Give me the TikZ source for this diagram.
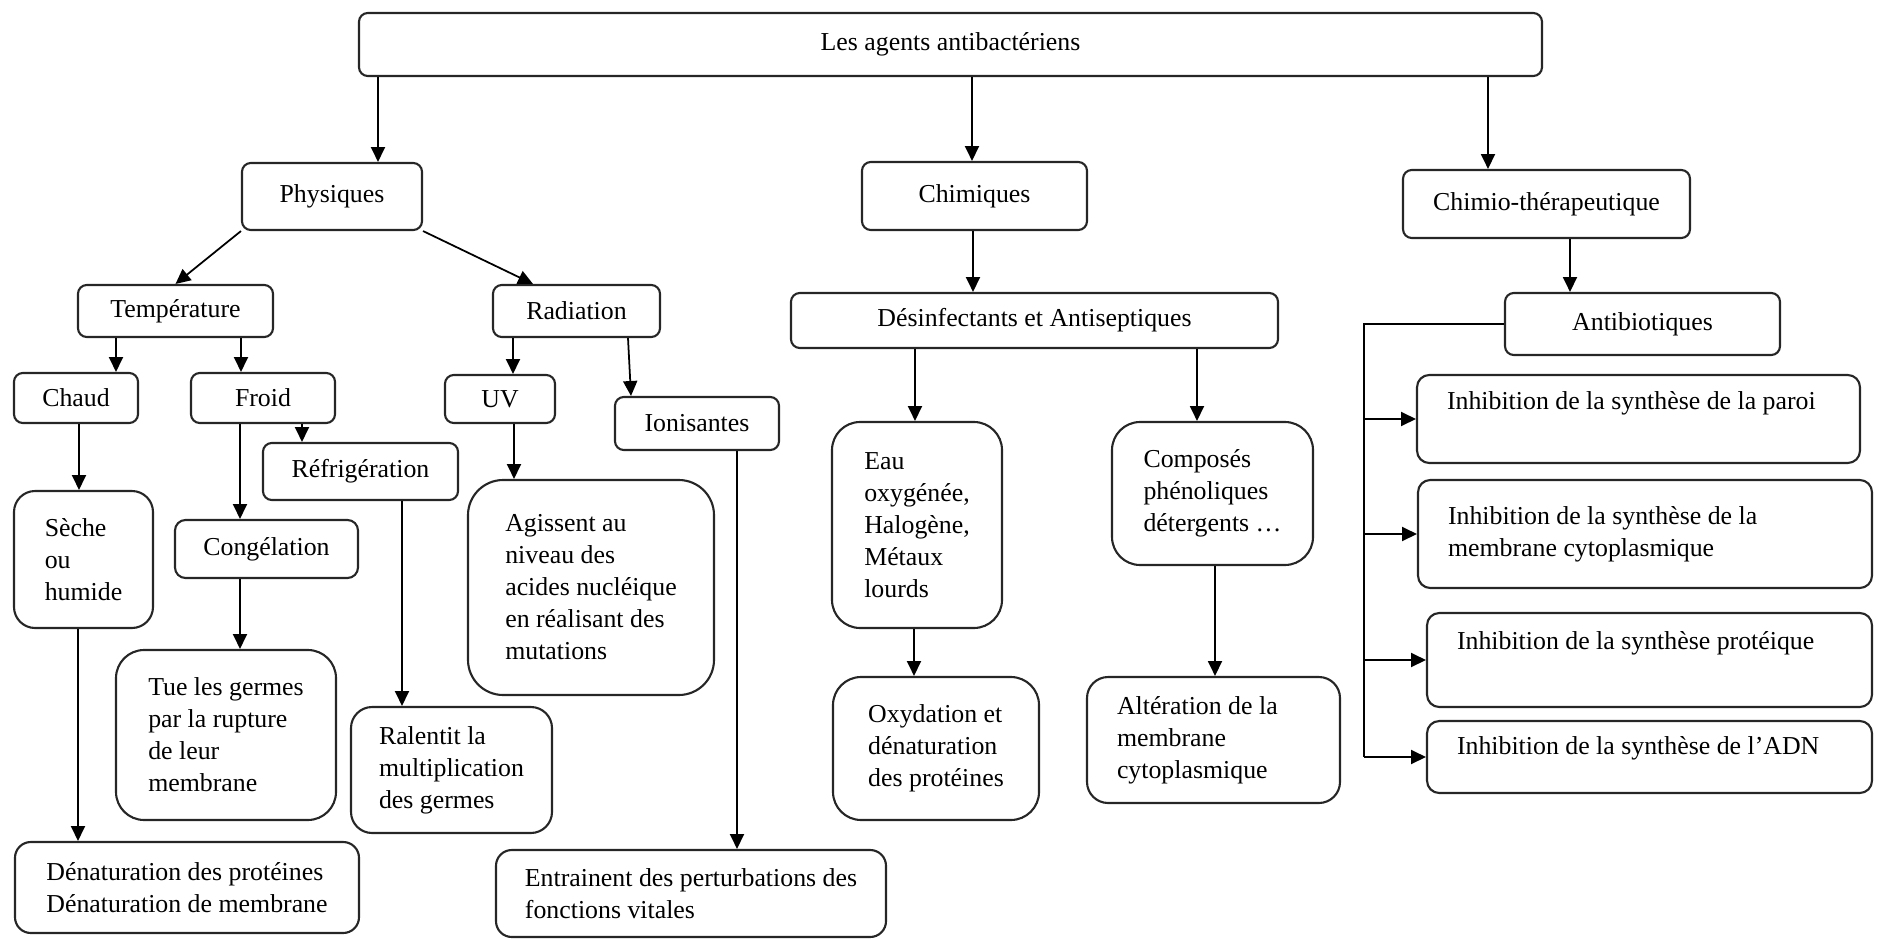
\documentclass[tikz,border=0pt]{standalone}
\usepackage{fontspec}
\setmainfont{Liberation Serif}
\usetikzlibrary{arrows.meta}

\begin{document}
\begin{tikzpicture}[
    x=0.2mm, y=-0.2mm,
    box/.style={rectangle, draw=black!85, line width=1.2pt, rounded corners=5pt, align=center, inner sep=2pt, font=\fontsize{14.7}{18.2}\selectfont},
    bigbox/.style={box, align=left, rounded corners=#1},
    bigbox/.default=16pt,
    sidebox/.style={box, align=flush left, rounded corners=7pt, inner xsep=0.6cm},
    arrow/.style={-{Triangle[length=8.5pt, width=8pt]}, line width=1pt}
]
    \useasboundingbox (0,0) rectangle (1879,938);

    \node[box, minimum width=23.66cm, minimum height=1.26cm] (top) at (950.5,44.5) {Les agents antibactériens};

    \node[box, minimum width=3.6cm, minimum height=1.34cm] (phys) at (332,196.5) {Physiques};
    \node[box, minimum width=4.5cm, minimum height=1.36cm] (chim) at (974.5,196) {Chimiques};
    \node[box, minimum width=5.74cm, minimum height=1.36cm] (chimio) at (1546.5,204) {Chimio-thérapeutique};

    \node[box, minimum width=3.9cm, minimum height=1.04cm] (temp) at (175.5,311) {Température};
    \node[box, minimum width=3.34cm, minimum height=1.04cm] (rad) at (576.5,311) {Radiation};
    \node[box, minimum width=9.74cm, minimum height=1.1cm] (desinf) at (1034.5,320.5) {Désinfectants et Antiseptiques};
    \node[box, minimum width=5.5cm, minimum height=1.24cm] (antib) at (1642.5,324) {Antibiotiques};

    \node[box, minimum width=2.48cm, minimum height=1cm] (chaud) at (76,398) {Chaud};
    \node[box, minimum width=2.88cm, minimum height=1cm] (froid) at (263,398) {Froid};
    \node[box, minimum width=2.2cm, minimum height=0.96cm] (uv) at (500,399) {UV};
    \node[box, minimum width=3.28cm, minimum height=1.06cm] (ionis) at (697,423.5) {Ionisantes};
    \node[box, minimum width=3.9cm, minimum height=1.14cm] (refrig) at (360.5,471.5) {Réfrigération};
    \node[box, minimum width=3.66cm, minimum height=1.16cm, rounded corners=6pt] (congel) at (266.5,549) {Congélation};

    \node[bigbox=12pt, minimum width=2.78cm, minimum height=2.74cm] (seche) at (83.5,559.5) {Sèche\\ou\\humide};
    \node[bigbox=20pt, minimum width=4.92cm, minimum height=4.3cm] (agiss) at (591,587.5) {Agissent au\\niveau des\\acides nucléique\\en réalisant des\\mutations};
    \node[bigbox, minimum width=4.4cm, minimum height=3.4cm] (tue) at (226,735) {Tue les germes\\par la rupture\\de leur\\membrane};
    \node[bigbox=12pt, minimum width=4.02cm, minimum height=2.52cm] (ralent) at (451.5,770) {Ralentit la\\multiplication\\des germes};
    \node[bigbox=9pt, minimum width=6.88cm, minimum height=1.82cm] (denat) at (187,887.5) {Dénaturation des protéines\\Dénaturation de membrane};
    \node[bigbox=9pt, minimum width=7.8cm, minimum height=1.74cm] (entrain) at (691,893.5) {Entrainent des perturbations des\\fonctions vitales};

    \node[bigbox, minimum width=3.4cm, minimum height=4.12cm] (eau) at (917,525) {Eau\\oxygénée,\\Halogène,\\Métaux\\lourds};
    \node[bigbox, minimum width=4.02cm, minimum height=2.86cm] (compo) at (1212.5,493.5) {Composés\\phénoliques\\détergents …};
    \node[bigbox, minimum width=4.12cm, minimum height=2.86cm] (oxyd) at (936,748.5) {Oxydation et\\dénaturation\\des protéines};
    \node[bigbox=12pt, align=flush left, minimum width=5.06cm, text width=3.86cm, inner xsep=0.6cm, minimum height=2.52cm] (alter) at (1213.5,740) {Altération de la\\membrane\\cytoplasmique};

    \node[sidebox, minimum width=8.86cm, text width=7.66cm, minimum height=1.76cm, text depth=0.75cm] (paroi) at (1638.5,419) {Inhibition de la synthèse de la paroi};
    \node[sidebox, minimum width=9.08cm, text width=7.88cm, minimum height=2.16cm] (membr) at (1645,534) {Inhibition de la synthèse de la\\membrane cytoplasmique};
    \node[sidebox, minimum width=8.9cm, text width=7.7cm, minimum height=1.88cm, text depth=0.79cm] (prot) at (1649.5,660) {Inhibition de la synthèse protéique};
    \node[sidebox, minimum width=8.9cm, text width=7.7cm, minimum height=1.44cm, text depth=0.47cm] (adn) at (1649.5,757) {Inhibition de la synthèse de l’ADN};

    \coordinate (trunk) at (1364,757);

    \draw[arrow] (top.south -| 378,0) -- (phys.north -| 378,0);
    \draw[arrow] (top.south -| 972,0) -- (chim.north -| 972,0);
    \draw[arrow] (top.south -| 1488,0) -- (chimio.north -| 1488,0);
    \draw[arrow] (phys.south west) -- (temp.north);
    \draw[arrow] (phys.south east) -- (rad.north -| 533,0);
    \draw[arrow] (chim.south -| 973,0) -- (desinf.north -| 973,0);
    \draw[arrow] (chimio.south -| 1570,0) -- (antib.north -| 1570,0);
    \draw[arrow] (temp.south -| 116,0) -- (chaud.north -| 116,0);
    \draw[arrow] (temp.south -| 241,0) -- (froid.north -| 241,0);
    \draw[arrow] (rad.south -| 513,0) -- (uv.north -| 513,0);
    \draw[arrow] (rad.south -| 628,0) -- (ionis.north -| 631,0);
    \draw[arrow] (froid.south -| 302,0) -- (refrig.north -| 302,0);
    \draw[arrow] (froid.south -| 240,0) -- (congel.north -| 240,0);
    \draw[arrow] (chaud.south -| 79,0) -- (seche.north -| 79,0);
    \draw[arrow] (uv.south -| 514,0) -- (agiss.north -| 514,0);
    \draw[arrow] (desinf.south -| 915,0) -- (eau.north -| 915,0);
    \draw[arrow] (desinf.south -| 1197,0) -- (compo.north -| 1197,0);
    \draw[arrow] (seche.south -| 78,0) -- (denat.north -| 78,0);
    \draw[arrow] (congel.south -| 240,0) -- (tue.north -| 240,0);
    \draw[arrow] (refrig.south -| 402,0) -- (ralent.north -| 402,0);
    \draw[arrow] (ionis.south -| 737,0) -- (entrain.north -| 737,0);
    \draw[arrow] (eau.south -| 914,0) -- (oxyd.north -| 914,0);
    \draw[arrow] (compo.south -| 1215,0) -- (alter.north -| 1215,0);

    \draw[line width=1pt] (antib.west) -| (trunk);
    \draw[arrow] (paroi.west -| trunk) -- (paroi.west);
    \draw[arrow] (membr.west -| trunk) -- (membr.west);
    \draw[arrow] (prot.west -| trunk) -- (prot.west);
    \draw[arrow] (adn.west -| trunk) -- (adn.west);
\end{tikzpicture}
\end{document}
